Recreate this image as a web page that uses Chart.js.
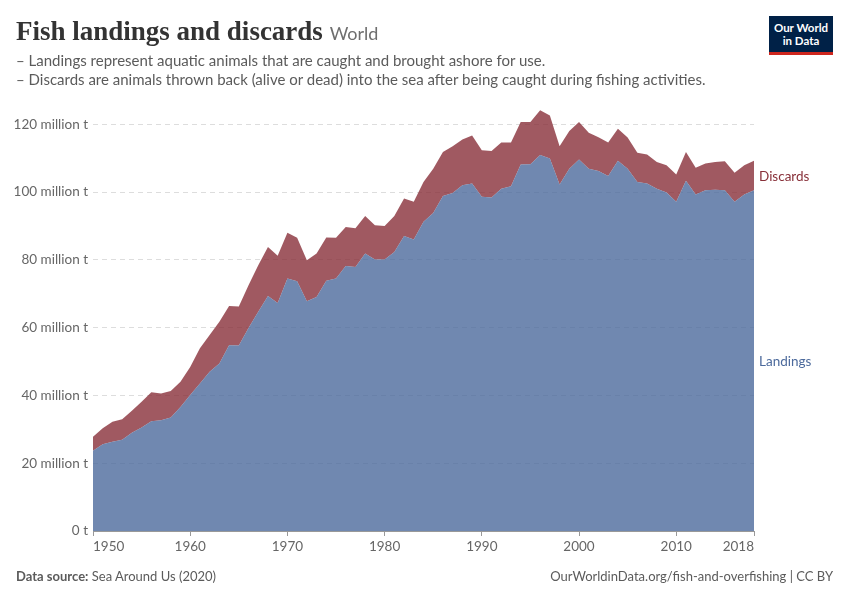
<!DOCTYPE html>
<html>
<head>
<meta charset="utf-8">
<script src="https://cdn.jsdelivr.net/npm/chart.js@4/dist/chart.umd.min.js"></script>
<style>
  html, body { margin: 0; padding: 0; background: #fff; }
  #wrap { position: relative; width: 850px; height: 600px; overflow: hidden; font-family: Lato, sans-serif; }
  #c { position: absolute; left: 0; top: 0; }
  .abs { position: absolute; white-space: nowrap; }
  #title { left: 16px; top: 16px; font-family: "Liberation Serif", "DejaVu Serif", serif; font-weight: bold; font-size: 27px; color: #333333; letter-spacing: 0px; }
  #title span { font-family: Lato, sans-serif; font-weight: normal; font-size: 18px; color: #6e6e6e; letter-spacing: 0; }
  .sub { left: 16px; font-size: 15px; color: #5b5b5b; }
  #logo { left: 769px; top: 16px; width: 64px; background: #002147; border-bottom: 3px solid #ce261e; color: #fff; font-size: 11.5px; font-weight: bold; line-height: 13px; text-align: center; padding-top: 5px; box-sizing: content-box; height: 31px; }
  .foot { top: 568px; font-size: 13px; color: #5b5b5b; }
</style>
</head>
<body>
<div id="wrap">
  <canvas id="c" width="850" height="600"></canvas>
  <div id="title" class="abs">Fish landings and discards <span>World</span></div>
  <div class="abs sub" style="top:51px">– Landings represent aquatic animals that are caught and brought ashore for use.</div>
  <div class="abs sub" style="top:70px">– Discards are animals thrown back (alive or dead) into the sea after being caught during fishing activities.</div>
  <div id="logo" class="abs">Our World<br>in Data</div>
  <div class="abs foot" style="left:16px"><b>Data source:</b> Sea Around Us (2020)</div>
  <div class="abs foot" style="right:17px">OurWorldinData.org/fish-and-overfishing | CC BY</div>
</div>
<script>
const years = [];
for (let y = 1950; y <= 2018; y++) years.push(y);

const landings = [
  23.7, 25.6, 26.3, 26.9, 29.0, 30.5, 32.4, 32.7, 33.5, 36.6,
  40.1, 43.5, 47.0, 49.4, 54.8, 54.7, 59.9, 64.7, 69.3, 67.3,
  74.5, 73.7, 67.8, 69.0, 73.8, 74.5, 78.2, 77.9, 81.9, 80.1,
  80.1, 82.3, 87.0, 86.0, 91.2, 93.8, 98.8, 99.7, 102.0, 102.5,
  98.6, 98.4, 101.0, 101.7, 108.1, 108.2, 110.9, 109.9, 102.2, 106.9,
  109.6, 106.9, 106.2, 104.7, 109.2, 106.9, 103.0, 102.5, 101.0, 99.9,
  97.1, 103.3, 99.3, 100.5, 100.7, 100.5, 97.1, 99.3, 100.5
];
const discards = [
  4.1, 4.7, 5.9, 6.1, 6.5, 7.6, 8.5, 7.9, 7.8, 7.4,
  8.3, 10.4, 10.8, 12.3, 11.6, 11.5, 12.6, 13.7, 14.5, 13.9,
  13.5, 12.8, 12.1, 12.9, 12.8, 12.0, 11.5, 11.4, 11.0, 10.1,
  9.9, 10.6, 11.1, 11.1, 11.8, 13.1, 13.0, 13.8, 13.5, 14.2,
  13.7, 13.7, 13.6, 12.9, 12.6, 12.5, 13.2, 12.7, 11.3, 11.1,
  11.1, 10.6, 10.0, 9.9, 9.5, 9.2, 8.6, 8.6, 7.9, 8.0,
  8.1, 8.5, 7.9, 7.9, 8.2, 8.6, 8.6, 8.6, 8.7
];
const xTickValues = [1950, 1960, 1970, 1980, 1990, 2000, 2010, 2018];
const yTickValues = [0, 20, 40, 60, 80, 100, 120];
const seriesNames = ['Landings', 'Discards'];

const toXY = arr => arr.map((v, i) => ({ x: years[i], y: v }));

const endLabels = {
  id: 'endLabels',
  afterDatasetsDraw(chart) {
    const ctx = chart.ctx, ys = chart.scales.y, area = chart.chartArea;
    const n = years.length - 1;
    const lMid = landings[n] / 2;
    const dMid = landings[n] + discards[n] / 2;
    ctx.save();
    ctx.font = '13.5px Lato, sans-serif';
    ctx.textBaseline = 'middle';
    ctx.textAlign = 'left';
    ctx.fillStyle = '#883039';
    ctx.fillText(seriesNames[1], area.right + 5, ys.getPixelForValue(dMid) + 1);
    ctx.fillStyle = '#4c6a9c';
    ctx.fillText(seriesNames[0], area.right + 5, ys.getPixelForValue(lMid) + 1);
    ctx.restore();
  }
};

new Chart(document.getElementById('c'), {
  type: 'line',
  data: {
    datasets: [
      { label: seriesNames[0], data: toXY(landings), backgroundColor: 'rgba(76,106,156,0.8)', borderWidth: 0, pointRadius: 0, fill: 'origin', tension: 0 },
      { label: seriesNames[1], data: toXY(discards), backgroundColor: 'rgba(136,48,57,0.8)', borderWidth: 0, pointRadius: 0, fill: '-1', tension: 0 }
    ]
  },
  options: {
    responsive: false,
    animation: false,
    devicePixelRatio: 1,
    layout: { padding: { left: 0, right: 96, top: 109, bottom: 39 } },
    plugins: { legend: { display: false }, tooltip: { enabled: false } },
    scales: {
      x: {
        type: 'linear', min: 1950, max: 2018,
        afterBuildTicks: s => { s.ticks = xTickValues.map(v => ({ value: v })); },
        afterFit: s => { s.height = 30; },
        ticks: { align: 'inner', autoSkip: false, maxRotation: 0, color: '#666', font: { family: 'Lato', size: 13.5 }, padding: 3, callback: v => String(v) },
        grid: { drawOnChartArea: false, drawTicks: true, tickLength: 5, color: '#999' },
        border: { display: true, color: '#999' }
      },
      y: {
        stacked: true, min: 0, max: 124.5,
        afterBuildTicks: s => { s.ticks = yTickValues.map(v => ({ value: v })); },
        afterFit: s => { s.width = 93; },
        ticks: { color: '#666', font: { family: 'Lato', size: 13.5 }, padding: 5, callback: v => v === 0 ? '0 t' : v + ' million t' },
        grid: { color: '#dddddd', drawTicks: false },
        border: { display: false, dash: [5, 4] }
      }
    }
  },
  plugins: [endLabels]
});
</script>
</body>
</html>
